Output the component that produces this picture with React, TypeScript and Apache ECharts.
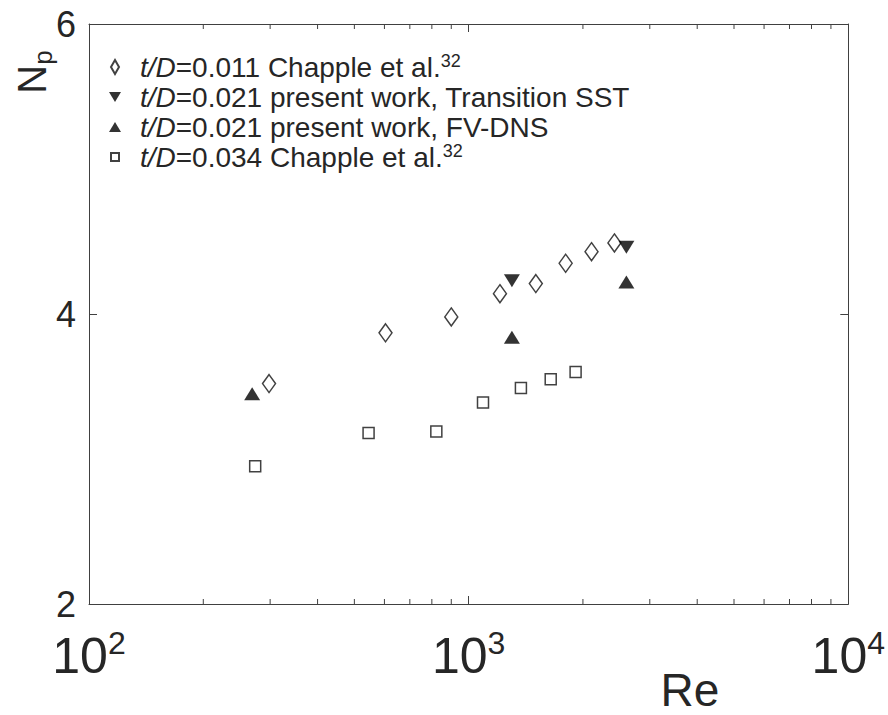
import React, { useEffect, useRef } from "react";
import * as echarts from "echarts";

// ---- data ----
const diamondRe = [298, 604, 900, 1209, 1503, 1801, 2107, 2421];
const diamondNp = [3.52, 3.87, 3.98, 4.14, 4.21, 4.35, 4.43, 4.49];
const sstRe = [1300, 2603];
const sstNp = [4.23, 4.46];
const dnsRe = [269, 1300, 2603];
const dnsNp = [3.45, 3.84, 4.22];
const squareRe = [274, 545, 822, 1091, 1373, 1645, 1913];
const squareNp = [2.95, 3.18, 3.19, 3.39, 3.49, 3.55, 3.6];
const minorTickRe = [200, 300, 400, 500, 600, 700, 800, 900, 2000, 3000, 4000, 5000, 6000, 7000, 8000, 9000];
const yTicks = [2, 4, 6];

const legendNames = ["d011", "sst", "dns", "d034"];
const legendLabels: Record<string, string> = {
  d011: "{i|t/D}{n|=0.011 Chapple et al.}{sup|32}",
  sst: "{i|t/D}{n|=0.021 present work, Transition SST}",
  dns: "{i|t/D}{n|=0.021 present work, FV-DNS}",
  d034: "{i|t/D}{n|=0.034 Chapple et al.}{sup|32}",
};

const FONT = "'Liberation Sans', Arial, Helvetica, sans-serif";
const INK = "#262626";
const AXIS = "#404040";

const zip = (xs: number[], ys: number[]) => xs.map((x, i) => [x, ys[i]]);

const DIAMOND_PATH = "path://M0,0M12,16M6,1L10,8L6,15L2,8Z";
const DOWN_TRI = "path://M0,0L16,0L8,13Z";
const UP_TRI = "path://M8,0L16,13L0,13Z";
const LEG_DOWN = "path://M0,0M16,16M2,3L14,3L8,13Z";
const LEG_UP = "path://M0,0M16,16M8,3L14,13L2,13Z";
const LEG_SQ = "path://M0,0M16,16M4,4L12,4L12,12L4,12Z";

export default function App() {
  const ref = useRef<HTMLDivElement>(null);
  useEffect(() => {
    if (!ref.current) return;
    const chart = echarts.init(ref.current, undefined, { renderer: "svg" });
    const hollow = { color: "#ffffff", borderColor: "#111", borderWidth: 1.5 };
    const filled = { color: "#000000", borderColor: "#000000", borderWidth: 0 };
    const axisLine = { show: true, lineStyle: { color: AXIS, width: 1 } };
    const option: any = {
      animation: false,
      backgroundColor: "#ffffff",
      grid: { left: 89, top: 24, width: 763, height: 580, containLabel: false },
      xAxis: [
        {
          type: "log",
          logBase: 10,
          min: 100,
          max: 10000,
          position: "bottom",
          axisLine,
          axisTick: { show: true, inside: true, length: 8, lineStyle: { color: AXIS } },
          splitLine: { show: false },
          minorTick: { show: false },
          axisLabel: {
            margin: 23,
            color: INK,
            fontFamily: FONT,
            formatter: (v: number) => `{b|10}{s|${Math.round(Math.log10(v))}}`,
            rich: {
              b: { fontSize: 50, lineHeight: 58, fontFamily: FONT, color: INK },
              s: { fontSize: 32, lineHeight: 32, verticalAlign: "top", fontFamily: FONT, color: INK },
            },
          },
        },
        {
          type: "log",
          logBase: 10,
          min: 100,
          max: 10000,
          position: "top",
          axisLine,
          axisTick: { show: true, inside: true, length: 8, lineStyle: { color: AXIS } },
          axisLabel: { show: false },
          splitLine: { show: false },
        },
      ],
      yAxis: [
        {
          type: "value",
          min: 2,
          max: 6,
          interval: 2,
          position: "left",
          axisLine,
          axisTick: { show: true, inside: true, length: 8, lineStyle: { color: AXIS } },
          splitLine: { show: false },
          axisLabel: { margin: 13, fontSize: 36, color: INK, fontFamily: FONT, formatter: (v: number) => (yTicks.includes(v) ? String(v) : "") },
        },
        {
          type: "value",
          min: 2,
          max: 6,
          interval: 2,
          position: "right",
          axisLine,
          axisTick: { show: true, inside: true, length: 8, lineStyle: { color: AXIS } },
          axisLabel: { show: false },
          splitLine: { show: false },
        },
      ],
      legend: {
        orient: "vertical",
        left: 101,
        top: 47,
        itemWidth: 40,
        itemHeight: 16,
        itemGap: 0,
        selectedMode: false,
        data: [
          { name: "d011", icon: DIAMOND_PATH },
          { name: "sst", icon: LEG_DOWN },
          { name: "dns", icon: LEG_UP },
          { name: "d034", icon: LEG_SQ },
        ],
        formatter: (name: string) => legendLabels[name] || name,
        textStyle: {
          fontSize: 28,
          lineHeight: 30,
          fontFamily: FONT,
          color: INK,
          rich: {
            i: { fontStyle: "italic", fontSize: 28, lineHeight: 30, fontFamily: FONT, color: INK },
            n: { fontSize: 28, lineHeight: 30, fontFamily: FONT, color: INK },
            sup: { fontSize: 18, lineHeight: 12, verticalAlign: "top", fontFamily: FONT, color: INK },
          },
        },
      },
      graphic: [
        {
          type: "text",
          x: 690,
          y: 690,
          style: { text: "Re", fontSize: 46, fontFamily: FONT, fill: INK, align: "center", verticalAlign: "middle" },
        },
        {
          type: "text",
          x: 32,
          y: 72,
          rotation: Math.PI / 2,
          style: {
            text: "{n|N}{s|p}",
            align: "center",
            verticalAlign: "middle",
            fill: INK,
            rich: {
              n: { fontSize: 40, lineHeight: 48, fontFamily: FONT, fill: INK },
              s: { fontSize: 26, lineHeight: 26, verticalAlign: "bottom", fontFamily: FONT, fill: INK },
            },
          },
        },
      ],
      series: [
        {
          type: "custom",
          name: "minorTicks",
          silent: true,
          xAxisIndex: 0,
          yAxisIndex: 0,
          data: minorTickRe.map((v) => [v]),
          renderItem: (params: any, api: any) => {
            const v = api.value(0);
            const b = api.coord([v, 2]);
            const t = api.coord([v, 6]);
            const st = { stroke: AXIS, lineWidth: 1 };
            return {
              type: "group",
              children: [
                { type: "line", shape: { x1: b[0], y1: b[1], x2: b[0], y2: b[1] - 5 }, style: st },
                { type: "line", shape: { x1: t[0], y1: t[1], x2: t[0], y2: t[1] + 5 }, style: st },
              ],
            };
          },
        },
        {
          type: "scatter",
          name: "d011",
          data: zip(diamondRe, diamondNp),
          symbol: "diamond",
          symbolSize: [13, 18],
          itemStyle: hollow,
          z: 3,
        },
        {
          type: "scatter",
          name: "sst",
          data: zip(sstRe, sstNp),
          symbol: DOWN_TRI,
          symbolSize: [16, 13],
          itemStyle: filled,
          z: 4,
        },
        {
          type: "scatter",
          name: "dns",
          data: zip(dnsRe, dnsNp),
          symbol: UP_TRI,
          symbolSize: [16, 13],
          itemStyle: filled,
          z: 4,
        },
        {
          type: "scatter",
          name: "d034",
          data: zip(squareRe, squareNp),
          symbol: "rect",
          symbolSize: [11, 11],
          itemStyle: hollow,
          z: 3,
        },
      ],
    };
    chart.setOption(option);
    return () => chart.dispose();
  }, []);
  return (
    <div
      ref={ref}
      style={{ position: "fixed", left: 0, top: 0, width: 888, height: 715, background: "#fff" }}
    />
  );
}
